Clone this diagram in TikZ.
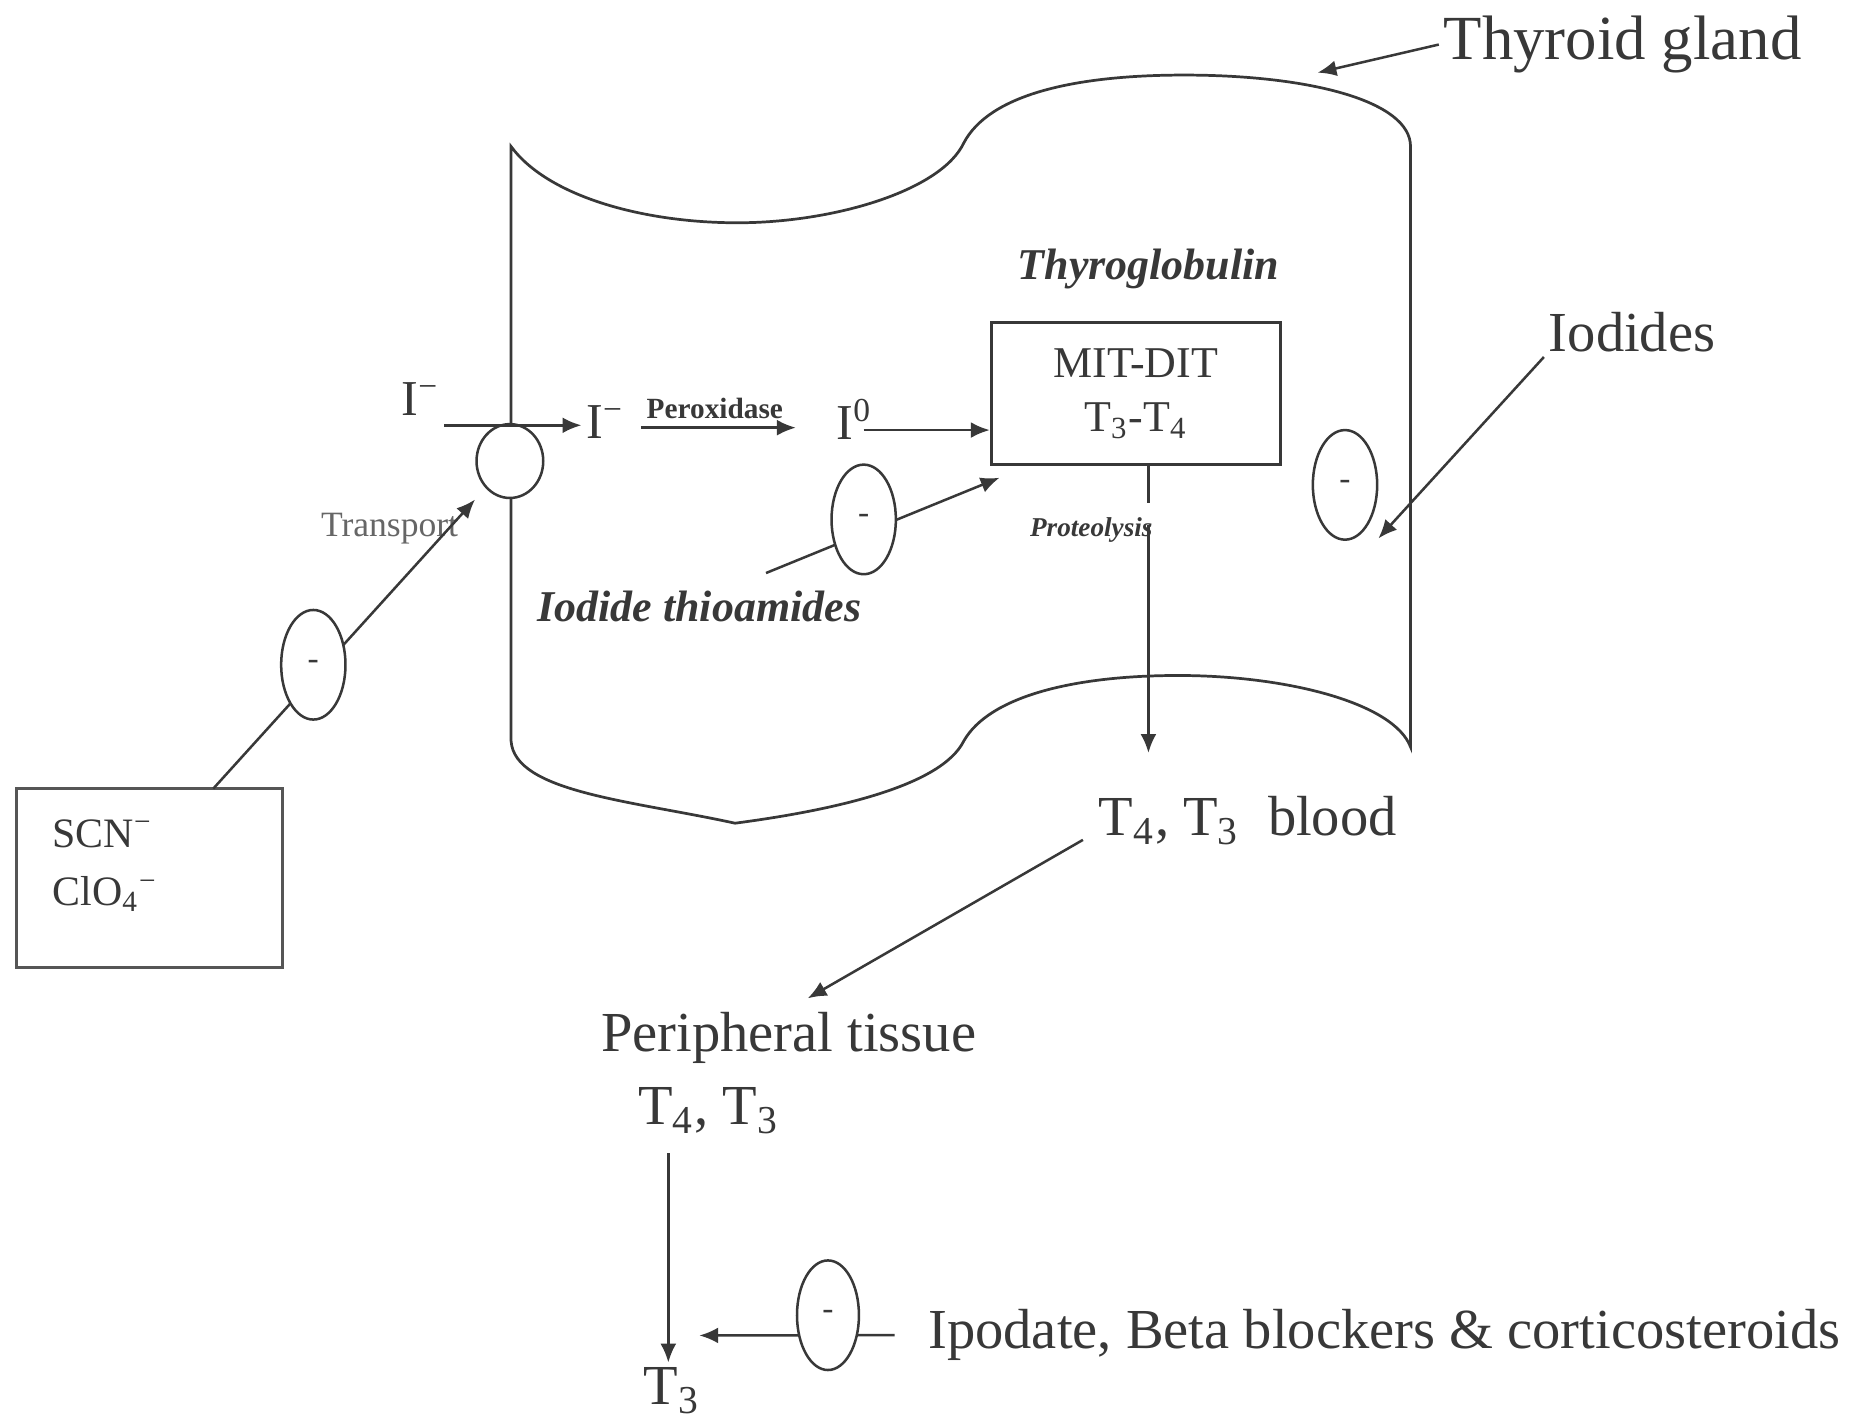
\documentclass[tikz,border=0pt]{standalone}
\usepackage{fontspec}
\setmainfont{Liberation Serif}
\usetikzlibrary{arrows.meta,shapes.geometric}
\definecolor{ink}{HTML}{383838}
\newcommand{\fsz}[1]{\fontsize{#1}{#1}\selectfont}
\begin{document}
\begin{tikzpicture}[x=0.1mm,y=-0.1mm,
  outline/.style={draw=ink, line width=0.65pt},
  conn/.style={draw=ink, line width=0.6pt},
  arr/.style={conn, -{Latex[length=4.5pt,width=3.8pt]}},
  inh/.style={ellipse, draw=ink, line width=0.6pt, fill=white, inner sep=0pt,
              minimum width=5.4mm, minimum height=9.2mm, font=\fsz{8}, text=ink},
  lbl/.style={text=ink, inner sep=1pt, font=\fsz{13.5}},
  ]
\useasboundingbox (0,0) rectangle (1568,1194);
\fill[white] (0,0) rectangle (1568,1194);

% thyroid gland outline
\draw[outline] (429,123) .. controls (460,165) and (540,187) .. (619,187)
  .. controls (700,187) and (790,160) .. (809,120)
  .. controls (830,80) and (900,63) .. (994,63)
  .. controls (1100,63) and (1184,85) .. (1184,123)
  -- (1184,627)
  .. controls (1170,590) and (1080,567) .. (989,567)
  .. controls (900,567) and (830,585) .. (809,622)
  .. controls (790,660) and (700,680) .. (617,691)
  .. controls (530,672) and (432,665) .. (429,622)
  -- cycle;

% transporter
\node[ellipse, draw=ink, line width=0.6pt, fill=white, minimum width=5.6mm,
      minimum height=6.2mm, inner sep=0pt] (tr) at (428,387) {};

% texts
\node[lbl, font=\fsz{15}, anchor=base] (tg) at (1362,50) {Thyroid gland};
\node[lbl, anchor=base] (iod) at (1370,295) {Iodides};
\node[lbl, font=\bfseries\itshape\fsz{10.5}, anchor=base] (tgb) at (964,235) {Thyroglobulin};
\node[draw=ink, line width=0.7pt, minimum width=24.3mm, minimum height=11.9mm,
      align=center, text=ink, font=\fsz{10.5}] (box) at (953.5,330.5)
      {MIT-DIT\\[2.6pt]T\textsubscript{3}-T\textsubscript{4}};
\node[lbl, font=\fsz{12}, anchor=base] (im1) at (353,349) {I\textsuperscript{−}};
\node[lbl, font=\fsz{12}, anchor=base west] (im2) at (488,368) {I\textsuperscript{−}};
\node[lbl, font=\bfseries\fsz{7}, anchor=base] (perox) at (600,351) {Peroxidase};
\node[lbl, font=\fsz{12}, anchor=base west] (i0) at (698,369) {I\textsuperscript{0}};
\node[lbl, font=\bfseries\itshape\fsz{10.5}, anchor=base] (thio) at (587,522) {Iodide thioamides};
\node[lbl, font=\bfseries\itshape\fsz{6.5}, anchor=base] (prot) at (916,450) {Proteolysis};
\node[lbl, font=\fsz{8.5}, text=black!60, anchor=base] (transp) at (327,450) {Transport};
\node[draw=ink!85, line width=0.6pt, minimum width=22.3mm, minimum height=15mm,
      inner sep=0pt] (scn) at (125.5,737) {};
\node[lbl, font=\fsz{10}, anchor=base west] (scn1) at (40,711) {SCN\textsuperscript{−}};
\node[lbl, font=\fsz{10}, anchor=base west] (scn2) at (40,760) {ClO\textsubscript{4}\textsuperscript{−}};
\node[lbl, anchor=base west] (blood) at (918,701) {T\textsubscript{4}, T\textsubscript{3}~ blood};
\node[lbl, anchor=base] (periph) at (662,883) {Peripheral tissue};
\node[lbl, anchor=base] (tt) at (595,944) {T\textsubscript{4}, T\textsubscript{3}};
\node[lbl, anchor=base west] (t3b) at (536,1179) {T\textsubscript{3}};
\node[lbl, anchor=base west] (ipd) at (775,1132) {Ipodate, Beta blockers \& corticosteroids};

% free connector ends
\coordinate (a0) at (373,357);
\coordinate (pa0) at (538,359);
\coordinate (pa1) at (668,359);
\coordinate (ib0) at (725,361);
\coordinate (s0) at (179,662);
\coordinate (th0) at (643,481);
\coordinate (th1) at (839,401);
\coordinate (pr1) at (964,422);
\coordinate (pr2) at (964,441);
\coordinate (pr3) at (964,632);
\coordinate (t2) at (1157,452);
\coordinate (t3) at (1106,61);
\coordinate (b0) at (909,705);
\coordinate (t4) at (678,838);
\coordinate (v0) at (561,968);
\coordinate (t7) at (587,1121);

% connectors
\draw[arr] (tg.west) -- (t3);
\draw[arr] (iod.south west) -- (t2);
\draw[arr] (a0) -- (a0 -| im2.west);
\draw[arr] (pa0) -- (pa1);
\draw[arr] (ib0) -- (ib0 -| box.west);
\draw[arr] (th0) -- (th1);
\draw[conn] (pr1 |- box.south) -- (pr1);
\draw[arr] (pr2) -- (pr3);
\draw[arr, shorten >=1.3mm] (s0) -- (tr);
\draw[arr] (b0) -- (t4);
\draw[arr] (v0) -- (v0 |- t3b.north);
\draw[arr, shorten <=2.4mm] (ipd.west) -- (t7);

% inhibition marks
\node[inh] (e1) at (263,558) {-};
\node[inh] (e2) at (725,436) {-};
\node[inh] (e3) at (1129,407) {-};
\node[inh, minimum width=5.2mm] (e4) at (695,1104) {-};
\end{tikzpicture}
\end{document}
